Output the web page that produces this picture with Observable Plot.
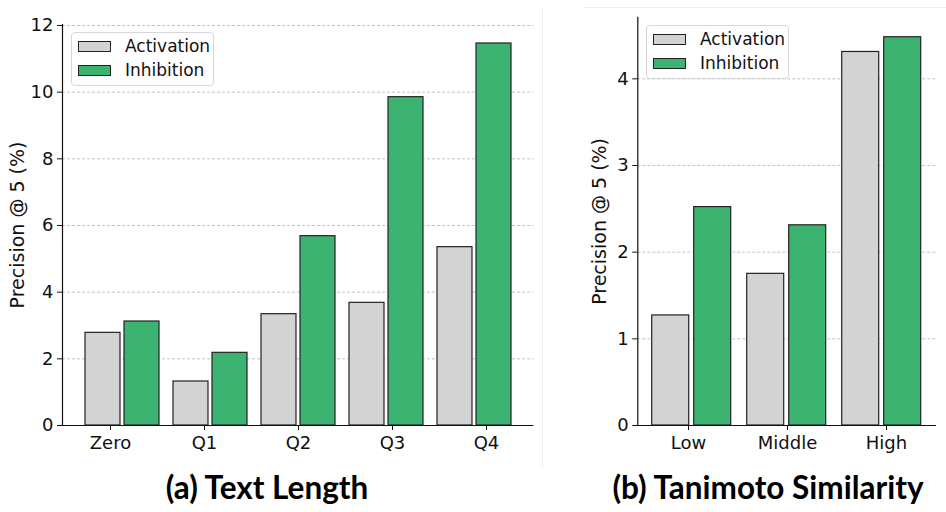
<!DOCTYPE html>
<html>
<head>
<meta charset="utf-8">
<script src="https://cdn.jsdelivr.net/npm/d3@7"></script>
<script src="https://cdn.jsdelivr.net/npm/@observablehq/plot@0.6"></script>
<style>
  html, body { margin: 0; padding: 0; background: #fff; }
  #root { position: relative; width: 946px; height: 512px; overflow: hidden; font-family: "DejaVu Sans", sans-serif; }
  .panel { position: absolute; top: 0; }
  .panel svg { position: absolute; left: 0; top: 0; }
  .legend { position: absolute; background: rgba(255,255,255,0.85); border: 1px solid #d6d6d6; border-radius: 4px; box-sizing: border-box; }
  .legend .item { position: absolute; left: 0; font-size: 17px; line-height: 17px; white-space: nowrap; color: #111; }
  .legend .patch { position: absolute; width: 33px; height: 11px; border: 1.2px solid #222; box-sizing: border-box; }
  .title { position: absolute; font-family: Lato, "Open Sans", sans-serif; font-weight: 700; font-size: 31.5px; line-height: 1; white-space: nowrap; color: #000; transform: translateX(-50%); }
  .sep { position: absolute; background: #efefef; }
</style>
</head>
<body>
<div id="root"></div>
<script>
// ---- data ----
const series = ["Activation", "Inhibition"];
const seriesColors = ["#d3d3d3", "#3cb371"];

const lengthCats = ["Zero", "Q1", "Q2", "Q3", "Q4"];
const lengthActivation = [2.78, 1.32, 3.34, 3.68, 5.35];
const lengthInhibition = [3.12, 2.18, 5.68, 9.85, 11.46];
const lengthTicks = [0, 2, 4, 6, 8, 10, 12];

const simCats = ["Low", "Middle", "High"];
const simActivation = [1.27, 1.75, 4.31];
const simInhibition = [2.52, 2.31, 4.48];
const simTicks = [0, 1, 2, 3, 4];

const yLabel = "Precision @ 5 (%)";
const titles = ["(a) Text Length", "(b) Tanimoto Similarity"];

// ---- drawing ----
const baseStyle = {fontFamily: "DejaVu Sans, sans-serif", fontSize: "18px", color: "#111", background: "transparent", overflow: "visible"};
const groupPadInner = 0.15;

function panel({cats, act, inh, ticks, ymax, width, height, marginLeft, marginRight, marginTop, marginBottom, labelDx, padOuter}) {
  const dims = {width, height, marginLeft, marginRight, marginTop, marginBottom};
  const data = cats.flatMap((c, i) => [
    {cat: c, series: series[0], value: act[i]},
    {cat: c, series: series[1], value: inh[i]}
  ]);
  // axes layer: categories on a band scale matching the facet bands
  const axes = Plot.plot({
    ...dims,
    style: baseStyle,
    x: {domain: cats, paddingInner: groupPadInner, paddingOuter: padOuter},
    y: {domain: [0, ymax]},
    marks: [
      Plot.ruleY(ticks.filter(t => t > 0), {stroke: "#b5b5b5", strokeDasharray: "3,2", strokeWidth: 0.8}),
      Plot.axisY(ticks, {tickSize: 5, tickPadding: 4, fontSize: 18, tickFormat: d => String(d), label: null}),
      Plot.axisX({tickSize: 5, tickPadding: 6, fontSize: 18, label: null}),
      Plot.text([yLabel], {frameAnchor: "left", textAnchor: "middle", rotate: -90, dx: labelDx, fontSize: 19, fill: "#111"})
    ]
  });
  // bars layer: grouped bars via fx facets
  const bars = Plot.plot({
    ...dims,
    style: baseStyle,
    fx: {domain: cats, paddingInner: groupPadInner, paddingOuter: padOuter, axis: null},
    x: {domain: series, paddingInner: 0.11, paddingOuter: 0, axis: null},
    y: {domain: [0, ymax], axis: null},
    color: {domain: series, range: seriesColors},
    marks: [
      Plot.barY(data, {fx: "cat", x: "series", y: "value", fill: "series", stroke: "#222", strokeWidth: 1.2})
    ]
  });
  // spines layer on top
  const spines = Plot.plot({
    ...dims,
    style: baseStyle,
    x: {domain: cats, paddingInner: groupPadInner, paddingOuter: padOuter, axis: null},
    y: {domain: [0, ymax], axis: null},
    marks: [
      Plot.ruleY([0], {stroke: "#111", strokeWidth: 1.2}),
      Plot.frame({anchor: "left", stroke: "#111", strokeWidth: 1.2})
    ]
  });
  return [axes, bars, spines];
}

const root = document.getElementById("root");

function place(els, left, w, h) {
  const wrap = document.createElement("div");
  wrap.className = "panel";
  wrap.style.left = left + "px";
  wrap.style.width = w + "px";
  wrap.style.height = h + "px";
  els.forEach(el => wrap.appendChild(el));
  root.appendChild(wrap);
}

function legend(left, top, w, h) {
  const lg = document.createElement("div");
  lg.className = "legend";
  lg.style.left = left + "px"; lg.style.top = top + "px";
  lg.style.width = w + "px"; lg.style.height = h + "px";
  series.forEach((s, i) => {
    const p = document.createElement("div");
    p.className = "patch";
    p.style.left = "6px";
    p.style.top = (8 + i * 24) + "px";
    p.style.background = seriesColors[i];
    lg.appendChild(p);
    const t = document.createElement("div");
    t.className = "item";
    t.style.left = "53px";
    t.style.top = (5 + i * 24) + "px";
    t.textContent = s;
    lg.appendChild(t);
  });
  root.appendChild(lg);
}

function title(text, cx, top) {
  const d = document.createElement("div");
  d.className = "title";
  d.style.left = cx + "px"; d.style.top = top + "px";
  d.textContent = text;
  root.appendChild(d);
}

function sep(left, top, w, h) {
  const d = document.createElement("div");
  d.className = "sep";
  d.style.left = left + "px"; d.style.top = top + "px";
  d.style.width = w + "px"; d.style.height = h + "px";
  root.appendChild(d);
}

sep(542, 8, 1, 460);
sep(583, 7, 363, 1);

place(panel({
  cats: lengthCats, act: lengthActivation, inh: lengthInhibition, ticks: lengthTicks, ymax: 12.03,
  width: 546, height: 460, marginLeft: 62, marginRight: 12.7, marginTop: 24, marginBottom: 35, labelDx: -45, padOuter: 0.25
}), 0, 546, 460);

place(panel({
  cats: simCats, act: simActivation, inh: simInhibition, ticks: simTicks, ymax: 4.71,
  width: 376, height: 460, marginLeft: 67.3, marginRight: 10, marginTop: 16.8, marginBottom: 35, labelDx: -38, padOuter: 0.147
}), 570, 376, 460);

legend(71, 32, 143, 54);
legend(646, 25, 143, 54);

title(titles[0], 267, 472);
title(titles[1], 768, 472);
</script>
</body>
</html>
